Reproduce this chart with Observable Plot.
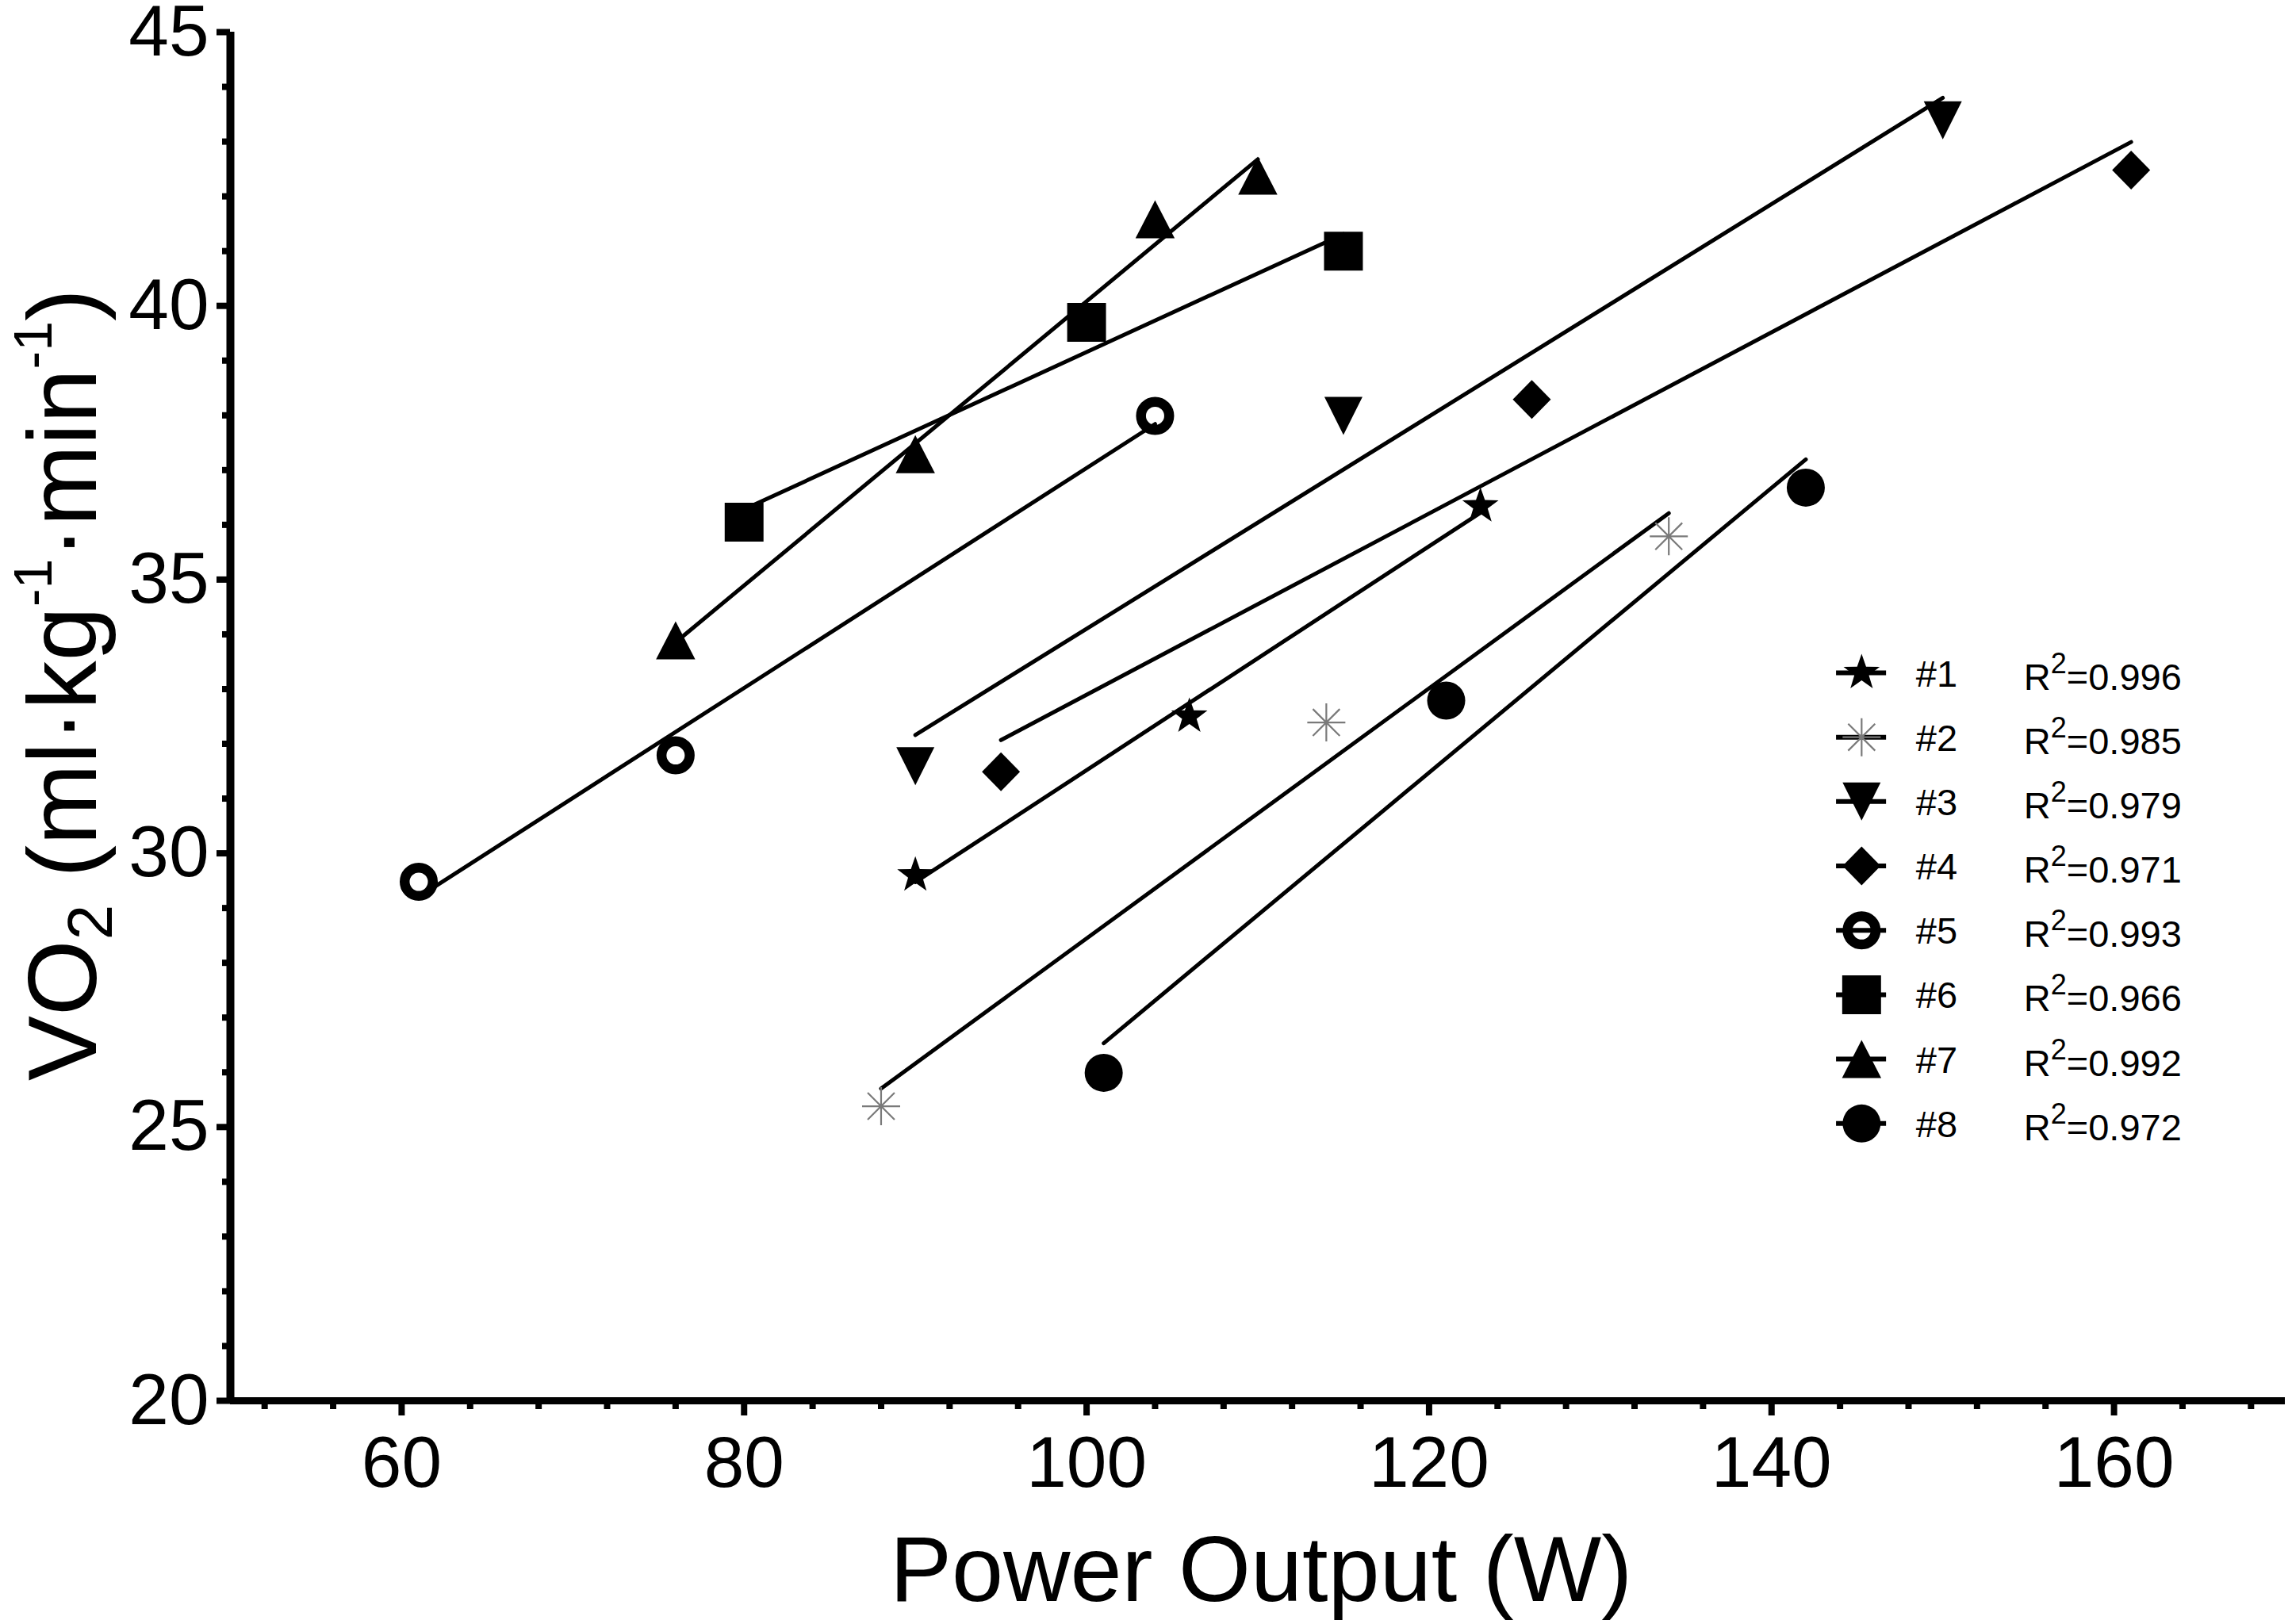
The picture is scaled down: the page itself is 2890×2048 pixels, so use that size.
<!DOCTYPE html>
<html>
<head>
<meta charset="utf-8">
<script src="https://cdn.jsdelivr.net/npm/d3@7"></script>
<script src="https://cdn.jsdelivr.net/npm/@observablehq/plot@0.6"></script>
<style>
  html, body { margin: 0; padding: 0; background: #fff; }
  svg { display: block; }
</style>
</head>
<body>
<div id="chart"></div>
<script>
// ---------------- data ----------------
const subjects = ["#1", "#2", "#3", "#4", "#5", "#6", "#7", "#8"];
const r2Values = ["0.996", "0.985", "0.979", "0.971", "0.993", "0.966", "0.992", "0.972"];

const powerS1 = [90, 106, 123];        const vo2S1 = [29.60, 32.50, 36.34];
const powerS2 = [88, 114, 134];        const vo2S2 = [25.38, 32.39, 35.79];
const powerS3 = [90, 115, 150];        const vo2S3 = [31.59, 37.99, 43.39];
const powerS4 = [95, 126, 161];        const vo2S4 = [31.49, 38.29, 42.48];
const powerS5 = [61, 76, 104];         const vo2S5 = [29.48, 31.79, 37.99];
const powerS6 = [80, 100, 115];        const vo2S6 = [36.05, 39.70, 41.00];
const powerS7 = [76, 90, 104, 110];    const vo2S7 = [33.89, 37.29, 41.58, 42.38];
const powerS8 = [101, 121, 142];       const vo2S8 = [25.99, 32.79, 36.68];

const xTicksMajor = [60, 80, 100, 120, 140, 160];
const xTicksMinor = [52, 56, 64, 68, 72, 76, 84, 88, 92, 96, 104, 108, 112, 116, 124, 128, 132, 136, 144, 148, 152, 156, 164, 168];
const yTicksMajor = [20, 25, 30, 35, 40, 45];
const yTicksMinor = [21, 22, 23, 24, 26, 27, 28, 29, 31, 32, 33, 34, 36, 37, 38, 39, 41, 42, 43, 44];

const xTitle = "Power Output (W)";
const yTitleParts = [
  {t: "VO", k: "n"}, {t: "2", k: "sub"}, {t: " (ml·kg", k: "n"}, {t: "-1", k: "sup"},
  {t: "·min", k: "n"}, {t: "-1", k: "sup"}, {t: ")", k: "n"}
];
const yTitlePlain = yTitleParts.map(p => p.t).join("");

// ---------------- table ----------------
const series = [
  {id: "#1", power: powerS1, vo2: vo2S1},
  {id: "#2", power: powerS2, vo2: vo2S2},
  {id: "#3", power: powerS3, vo2: vo2S3},
  {id: "#4", power: powerS4, vo2: vo2S4},
  {id: "#5", power: powerS5, vo2: vo2S5},
  {id: "#6", power: powerS6, vo2: vo2S6},
  {id: "#7", power: powerS7, vo2: vo2S7},
  {id: "#8", power: powerS8, vo2: vo2S8}
];
const table = [];
series.forEach(s => s.power.forEach((p, i) => table.push({subject: s.id, power: p, vo2: s.vo2[i]})));
const legendRows = subjects.map((s, i) => ({subject: s, i, r2: r2Values[i]}));

// ---------------- symbols ----------------
function sym(fn) {
  return {draw(ctx, size) { const r = Math.sqrt(size / Math.PI); fn(ctx, r); }};
}
const SYM = {
  "#1": sym((c, r) => { // star
    const ri = r * 0.40;
    for (let k = 0; k < 10; k++) {
      const a = -Math.PI / 2 + k * Math.PI / 5;
      const rr = k % 2 ? ri : r;
      const x = rr * Math.cos(a), y = rr * Math.sin(a);
      if (k === 0) c.moveTo(x, y); else c.lineTo(x, y);
    }
    c.closePath();
  }),
  "#2": sym((c, r) => { // asterisk
    const d = r * Math.SQRT1_2;
    c.moveTo(-r, 0); c.lineTo(r, 0);
    c.moveTo(0, -r); c.lineTo(0, r);
    c.moveTo(-d, -d); c.lineTo(d, d);
    c.moveTo(-d, d); c.lineTo(d, -d);
  }),
  "#3": sym((c, r) => { c.moveTo(0, r); c.lineTo(r, -r); c.lineTo(-r, -r); c.closePath(); }),
  "#4": sym((c, r) => { const v = r * 1.02; c.moveTo(0, -v); c.lineTo(r, 0); c.lineTo(0, v); c.lineTo(-r, 0); c.closePath(); }),
  "#5": sym((c, r) => { const rr = r * 0.74; c.moveTo(rr, 0); c.arc(0, 0, rr, 0, 2 * Math.PI); c.closePath(); }),
  "#6": sym((c, r) => { const h = r * 1.02; c.rect(-h, -h, 2 * h, 2 * h); }),
  "#7": sym((c, r) => { const w = r * 1.03; c.moveTo(0, -r); c.lineTo(w, r); c.lineTo(-w, r); c.closePath(); }),
  "#8": sym((c, r) => { c.moveTo(r, 0); c.arc(0, 0, r, 0, 2 * Math.PI); c.closePath(); })
};
const filledIds = new Set(["#1", "#3", "#4", "#6", "#7", "#8"]);

// ---------------- layout constants ----------------
const R = 24;
const LEG = {symX: 145.26, lineX1: 143.79, lineX2: 146.71, idX: 148.43, r2X: 154.73, y0: 33.297, step: 1.176};
const legY = d => LEG.y0 - d.i * LEG.step;
const FONT = "'Liberation Sans', Arial, Helvetica, sans-serif";

function dotMarks(data, xAcc, yAcc) {
  return [
    Plot.dot(data.filter(d => filledIds.has(d.subject)), {x: xAcc, y: yAcc, symbol: d => SYM[d.subject], r: R, fill: "black", stroke: "none"}),
    Plot.dot(data.filter(d => d.subject === "#5"), {x: xAcc, y: yAcc, symbol: SYM["#5"], r: R, fill: "none", stroke: "black", strokeWidth: 12.5}),
    Plot.dot(data.filter(d => d.subject === "#2"), {x: xAcc, y: yAcc, symbol: SYM["#2"], r: R, fill: "none", stroke: "#7a7a7a", strokeWidth: 2.2})
  ];
}

const plot = Plot.plot({
  width: 2890,
  height: 2048,
  marginLeft: 290,
  marginRight: 9,
  marginTop: 40,
  marginBottom: 282,
  style: {fontFamily: FONT, background: "white", color: "black", overflow: "visible"},
  x: {domain: [50, 170], label: null},
  y: {domain: [20, 45], label: null},
  marks: [
    // axes
    Plot.axisY({ticks: yTicksMinor, tickSize: 10, strokeWidth: 8, tickFormat: () => "", label: null}),
    Plot.axisY({ticks: yTicksMajor, tickSize: 17, tickPadding: 10, strokeWidth: 8, fontSize: 91, label: null}),
    Plot.axisX({ticks: xTicksMinor, tickSize: 11, strokeWidth: 8, tickFormat: () => "", label: null}),
    Plot.axisX({ticks: xTicksMajor, tickSize: 19, tickPadding: 25, strokeWidth: 8, fontSize: 91, label: null}),
    Plot.ruleX([50], {y1: 20, y2: 45, stroke: "black", strokeWidth: 10}),
    Plot.ruleY([20], {x1: 50, x2: 170, stroke: "black", strokeWidth: 9}),
    // regression lines
    Plot.linearRegressionY(table, {x: "power", y: "vo2", z: "subject", stroke: "black", strokeWidth: 5, ci: 0}),
    // data markers
    ...dotMarks(table, "power", "vo2"),
    // legend
    Plot.ruleY(legendRows, {y: legY, x1: () => LEG.lineX1, x2: () => LEG.lineX2, stroke: "black", strokeWidth: 6}),
    ...dotMarks(legendRows, () => LEG.symX, legY),
    Plot.text(legendRows, {x: () => LEG.idX, y: legY, text: "subject", textAnchor: "start", lineAnchor: "middle", fontSize: 47, dy: 2}),
    Plot.text(legendRows, {x: () => LEG.r2X, y: legY, text: d => "R2=" + d.r2, textAnchor: "start", lineAnchor: "middle", fontSize: 47, dy: 6}),
    // titles
    Plot.text([xTitle], {frameAnchor: "bottom", text: d => d, fontSize: 117, lineAnchor: "bottom", textAnchor: "middle", dy: 252, dx: 4}),
    Plot.text([yTitlePlain], {frameAnchor: "left", text: d => d, fontSize: 123, rotate: -90, lineAnchor: "bottom", textAnchor: "middle", dx: -170, dy: -40})
  ]
});

// rich text: superscripts / subscripts (rebuild the plain texts with tspans)
d3.select(plot).selectAll("text").each(function () {
  const content = this.textContent;
  const t = d3.select(this);
  if (/^R2=/.test(content)) {
    const val = content.slice(2);
    t.selectAll("*").remove();
    t.text(null);
    t.append("tspan").text("R");
    t.append("tspan").attr("font-size", 36).attr("dy", -21).text("2");
    t.append("tspan").attr("dy", 21).text(val);
  } else if (content === yTitlePlain) {
    t.selectAll("*").remove();
    t.text(null);
    let shift = 0;
    yTitleParts.forEach(p => {
      const target = p.k === "sub" ? 20 : p.k === "sup" ? -56 : 0;
      const sp = t.append("tspan").attr("dy", target - shift).text(p.t);
      if (p.k === "sub") sp.attr("font-size", 80);
      if (p.k === "sup") sp.attr("font-size", 68);
      shift = target;
    });
  }
});

document.getElementById("chart").appendChild(plot);
</script>
</body>
</html>
